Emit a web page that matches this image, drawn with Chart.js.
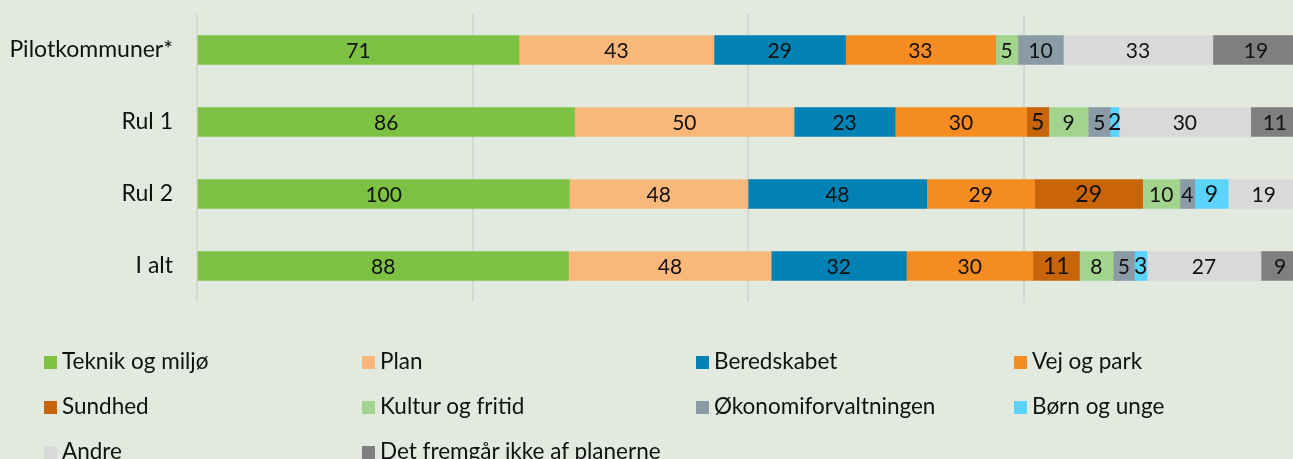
<!DOCTYPE html>
<html>
<head>
<meta charset="utf-8">
<script src="https://cdn.jsdelivr.net/npm/chart.js@4"></script>
<style>
    html, body { margin: 0; padding: 0; background: #e2eadf; overflow: hidden; }
    #wrap { position: relative; width: 1293px; height: 459px; overflow: hidden; }
    #chart { position: absolute; left: 0; top: 0; }
    #legend { position: absolute; left: 0; top: 0; width: 1293px; height: 459px; pointer-events: none; }
    .item { position: absolute; font-family: Lato, sans-serif; font-size: 22.5px; color: #111; white-space: nowrap; line-height: 26px; }
    .item span { display: inline-block; width: 13px; height: 13px; margin-right: 5px; vertical-align: 0px; }
</style>
</head>
<body>
<div id="wrap">
    <canvas id="chart" width="1299" height="310"></canvas>
    <div id="legend"></div>
</div>
<script>
const categories = ['Pilotkommuner*', 'Rul 1', 'Rul 2', 'I alt'];

const seriesNames = ['Teknik og miljø', 'Plan', 'Beredskabet', 'Vej og park', 'Sundhed',
    'Kultur og fritid', 'Økonomiforvaltningen', 'Børn og unge', 'Andre', 'Det fremgår ikke af planerne'];

const teknik = [71, 86, 100, 88];
const plan = [43, 50, 48, 48];
const beredskabet = [29, 23, 48, 32];
const vejPark = [33, 30, 29, 30];
const sundhed = [0, 5, 29, 11];
const kultur = [5, 9, 10, 8];
const oekonomi = [10, 5, 4, 5];
const boern = [0, 2, 9, 3];
const andre = [33, 30, 19, 27];
const fremgaar = [19, 11, 0, 9];

const seriesValues = [teknik, plan, beredskabet, vejPark, sundhed, kultur, oekonomi, boern, andre, fremgaar];
const colors = ['#7dc242', '#f9b87a', '#0082b4', '#f58c22', '#c8650a',
    '#a3d48d', '#8a9ba5', '#5bd3ff', '#d9d9d9', '#7f7f7f'];

// each row is shown as 100 % stacked
const totals = categories.map((c, i) => seriesValues.reduce((s, arr) => s + arr[i], 0));

const valueLabels = {
    id: 'valueLabels',
    afterDatasetsDraw(chart) {
        const ctx = chart.ctx;
        ctx.save();
        ctx.textAlign = 'center';
        ctx.textBaseline = 'middle';
        ctx.fillStyle = '#111';
        chart.data.datasets.forEach((ds, di) => {
            const meta = chart.getDatasetMeta(di);
            const big = di === 4 || di === 7;
            ctx.font = (big ? '23px' : '21px') + ' Lato, sans-serif';
            meta.data.forEach((bar, i) => {
                const v = ds.raw[i];
                if (!v) return;
                const p = bar.getCenterPoint();
                ctx.fillText(String(v), p.x, p.y + 1);
            });
        });
        ctx.restore();
    }
};

window.onload = () => {
    const ctx = document.getElementById('chart');

    new Chart(ctx, {
        type: 'bar',
        data: {
            labels: categories,
            datasets: seriesNames.map((name, k) => ({
                label: name,
                raw: seriesValues[k],
                data: seriesValues[k].map((v, i) => v / totals[i] * 100),
                backgroundColor: colors[k],
                borderWidth: 0,
                barThickness: 29
            }))
        },
        options: {
            indexAxis: 'y',
            responsive: false,
            animation: false,
            layout: { padding: { top: 14, bottom: 8, left: 0, right: 0 } },
            scales: {
                x: {
                    stacked: true,
                    min: 0,
                    max: 100,
                    ticks: { display: false, stepSize: 25 },
                    border: { display: false },
                    grid: { color: '#d3d8d3', lineWidth: 2, drawTicks: false },
                    afterFit: (s) => { s.height = 0; }
                },
                y: {
                    stacked: true,
                    ticks: { color: '#111', padding: 24, font: { family: 'Lato', size: 23 } },
                    border: { display: false },
                    grid: { display: false, drawTicks: false },
                    afterFit: (s) => {
                        s.width = 197;
                        s.paddingTop = 0;
                        s.paddingBottom = 0;
                    }
                }
            },
            plugins: {
                legend: { display: false },
                tooltip: { enabled: false }
            }
        },
        plugins: [valueLabels]
    });

    // legend in four columns below the chart
    const colX = [44, 362, 696, 1014];
    const rowY = [348, 393, 438];
    const legend = document.getElementById('legend');
    seriesNames.forEach((name, k) => {
        const d = document.createElement('div');
        d.className = 'item';
        d.style.left = colX[k % 4] + 'px';
        d.style.top = rowY[Math.floor(k / 4)] + 'px';
        d.innerHTML = '<span style="background:' + colors[k] + '"></span>' + name;
        legend.appendChild(d);
    });
};
</script>
</body>
</html>
